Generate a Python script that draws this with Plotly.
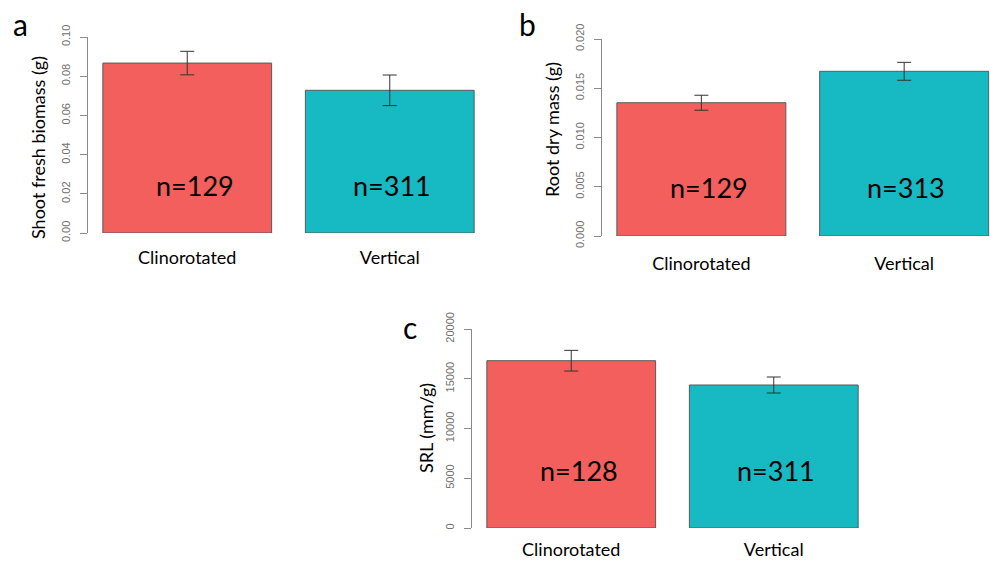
import plotly.graph_objects as go

categories = ["Clinorotated", "Vertical"]
colors = ["#F25F5C", "#17B9C2"]

# Panel a: shoot fresh biomass (g)
a_means = [0.0867, 0.0728]
a_err = [0.0060, 0.0078]
a_n = ["n=129", "n=311"]
a_ticks = [0.00, 0.02, 0.04, 0.06, 0.08, 0.10]
a_ticktext = ["0.00", "0.02", "0.04", "0.06", "0.08", "0.10"]

# Panel b: root dry mass (g)
b_means = [0.01353, 0.01672]
b_err = [0.00076, 0.00091]
b_n = ["n=129", "n=313"]
b_ticks = [0.000, 0.005, 0.010, 0.015, 0.020]
b_ticktext = ["0.000", "0.005", "0.010", "0.015", "0.020"]

# Panel c: SRL (mm/g)
c_means = [16814, 14372]
c_err = [1040, 804]
c_n = ["n=128", "n=311"]
c_ticks = [0, 5000, 10000, 15000, 20000]
c_ticktext = ["0", "5000", "10000", "15000", "20000"]

W, H = 990, 561
def px(x):
    return x / W
def py(y):
    return 1 - y / H

LABEL_FONT = "Lato"
TICK_FONT = "Liberation Sans"
N_XSHIFT = [8, 2]

fig = go.Figure()

panels = [
    ("", "y", a_means, a_err, a_n, 0.10, 0.24),
    ("2", "y2", b_means, b_err, b_n, 0.020, 0.244),
    ("3", "y3", c_means, c_err, c_n, 20000, 0.291),
]

for suf, yname, means, err, ns, ymax, frac in panels:
    fig.add_trace(go.Bar(
        x=categories, y=means,
        xaxis="x" + suf, yaxis=yname,
        marker=dict(color=colors, line=dict(color="#5a5a5a", width=1)),
        width=1 / 1.2,
        error_y=dict(type="data", array=err, color="#333333", thickness=1, width=7),
        showlegend=False, hoverinfo="skip",
    ))
    for cat, label, xs in zip(categories, ns, N_XSHIFT):
        fig.add_annotation(
            x=cat, y=ymax * frac, xref="x" + suf, yref=yname,
            text=label, showarrow=False, xshift=xs,
            font=dict(family=LABEL_FONT, size=27, color="black"),
        )

yaxis_common = dict(
    showgrid=False, zeroline=False, showline=True, linecolor="#8a8a8a", linewidth=1,
    ticks="outside", ticklen=7, tickcolor="#8a8a8a", tickwidth=1,
    tickangle=-90, tickfont=dict(family=TICK_FONT, size=11, color="#707070"),
    ticklabelstandoff=6, automargin=False,
)
xaxis_common = dict(
    showgrid=False, zeroline=False, showline=False, ticks="",
    type="category", automargin=False,
    tickfont=dict(family=LABEL_FONT, size=18, color="black"),
)

fig.update_layout(
    width=W, height=H, margin=dict(l=0, r=0, t=0, b=0, autoexpand=False),
    paper_bgcolor="white", plot_bgcolor="white",
    bargap=1 / 6,
    xaxis=dict(domain=[px(88), px(489)], range=[-0.49, 1.49], anchor="y",
               ticklabelstandoff=12, **xaxis_common),
    yaxis=dict(domain=[py(233), py(37)], range=[0, 0.10], anchor="x",
               tickvals=a_ticks, ticktext=a_ticktext, **yaxis_common),
    xaxis2=dict(domain=[px(602), 1.0], range=[-0.49, 1.4233], anchor="y2",
                ticklabelstandoff=15, **xaxis_common),
    yaxis2=dict(domain=[py(236), py(39)], range=[0, 0.020], anchor="x2",
                tickvals=b_ticks, ticktext=b_ticktext, **yaxis_common),
    xaxis3=dict(domain=[px(472), px(873)], range=[-0.49, 1.49], anchor="y3",
                ticklabelstandoff=9, **xaxis_common),
    yaxis3=dict(domain=[py(528), py(329)], range=[0, 20000], anchor="x3",
                tickvals=c_ticks, ticktext=c_ticktext, **yaxis_common),
)

# Axis titles
titles = [
    ("Shoot fresh biomass (g)", 38, 148),
    ("Root dry mass (g)", 552, 130),
    ("SRL (mm/g)", 426, 428),
]
for text, x, y in titles:
    fig.add_annotation(x=px(x), y=py(y), xref="paper", yref="paper", text=text,
                       textangle=-90, showarrow=False, xanchor="center", yanchor="middle",
                       font=dict(family=LABEL_FONT, size=18, color="black"))

# Panel letters
letters = [("a", 20, 24), ("b", 527, 24), ("c", 410, 327)]
for text, x, y in letters:
    fig.add_annotation(x=px(x), y=py(y), xref="paper", yref="paper", text=text,
                       showarrow=False, xanchor="center", yanchor="middle",
                       font=dict(family=LABEL_FONT, size=30, color="black"))

fig.write_html("out.html")
